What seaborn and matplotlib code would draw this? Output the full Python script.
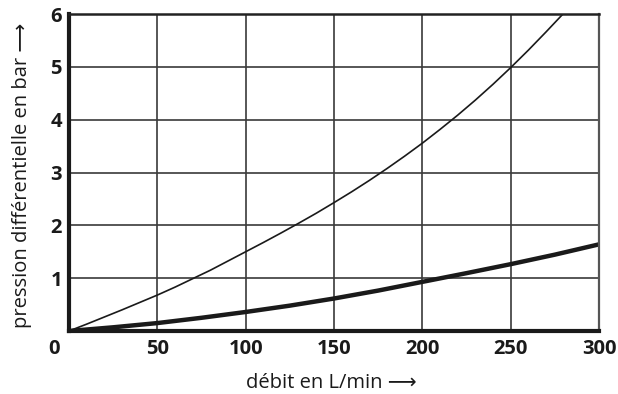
import numpy as np
import pandas as pd
import matplotlib
matplotlib.use("Agg")
import matplotlib.pyplot as plt
import matplotlib.transforms as mtransforms
import seaborn as sns

# Flow rate (L/min) and differential pressure (bar) for the two curves
debit_fin = [0, 10, 20, 30, 40, 50, 60, 70, 80, 90, 100, 110, 120, 130, 140,
             150, 160, 170, 180, 190, 200, 210, 220, 230, 240, 250, 260, 270, 279.6]
pression_fin = [0, 0.13, 0.265, 0.40, 0.54, 0.68, 0.83, 0.99, 1.15, 1.325, 1.5,
                1.675, 1.855, 2.04, 2.23, 2.43, 2.635, 2.85, 3.075, 3.31, 3.555,
                3.815, 4.085, 4.37, 4.67, 4.985, 5.315, 5.66, 6.0]

debit_epais = [0, 25, 50, 75, 100, 125, 150, 175, 200, 225, 250, 275, 300]
pression_epais = [0, 0.07, 0.15, 0.25, 0.36, 0.48, 0.615, 0.765, 0.93, 1.095, 1.265, 1.445, 1.64]

x_ticks = [0, 50, 100, 150, 200, 250, 300]
y_ticks = [1, 2, 3, 4, 5, 6]

df = pd.concat([
    pd.DataFrame({"debit": debit_fin, "pression": pression_fin, "courbe": "fin"}),
    pd.DataFrame({"debit": debit_epais, "pression": pression_epais, "courbe": "epais"}),
])

sns.set_theme(style="white")
plt.rcParams["font.family"] = ["Open Sans", "DejaVu Sans"]

fig = plt.figure(figsize=(6.18, 3.94), dpi=100)
ax = fig.add_axes([69 / 618, 1 - 331 / 394, 530 / 618, 317 / 394])

sns.lineplot(data=df, x="debit", y="pression", hue="courbe", size="courbe",
             sizes={"fin": 1.2, "epais": 3.2},
             palette={"fin": "#1a1a1a", "epais": "#1a1a1a"},
             legend=False, sort=False, ax=ax, zorder=3)

ax.set_xlim(0, 300)
ax.set_ylim(0, 6)
ax.set_xticks(x_ticks)
ax.set_yticks(y_ticks)
ax.set_xticklabels([str(v) for v in x_ticks], fontsize=14.5, fontweight="bold", color="#1a1a1a")
ax.set_yticklabels([str(v) for v in y_ticks], fontsize=14.5, fontweight="bold", color="#1a1a1a")
ax.tick_params(axis="both", length=0)
ax.tick_params(axis="x", pad=6)
ax.tick_params(axis="y", pad=5)

# move the origin label away from the y axis
lbl0 = ax.get_xticklabels()[0]
lbl0.set_transform(lbl0.get_transform() + mtransforms.ScaledTranslation(-15 / 100, 0, fig.dpi_scale_trans))

ax.grid(True, color="#3a3a3a", linewidth=1.2)
ax.set_axisbelow(True)

for side, lw, col in [("left", 3.0, "#1a1a1a"), ("bottom", 3.0, "#1a1a1a"),
                      ("top", 1.8, "#222222"), ("right", 1.6, "#555555")]:
    ax.spines[side].set_visible(True)
    ax.spines[side].set_linewidth(lw)
    ax.spines[side].set_color(col)
    ax.spines[side].set_zorder(4)

ax.set_xlabel("débit en L/min ⟶", fontsize=14.5, color="#1a1a1a")
ax.set_ylabel("pression différentielle en bar ⟶", fontsize=14.5, color="#1a1a1a")
ax.xaxis.set_label_coords((331 - 69) / 530, -0.132)
ax.yaxis.set_label_coords((32 - 69) / 530, 0.492)

fig.savefig("out.png", dpi=100, facecolor="white")
